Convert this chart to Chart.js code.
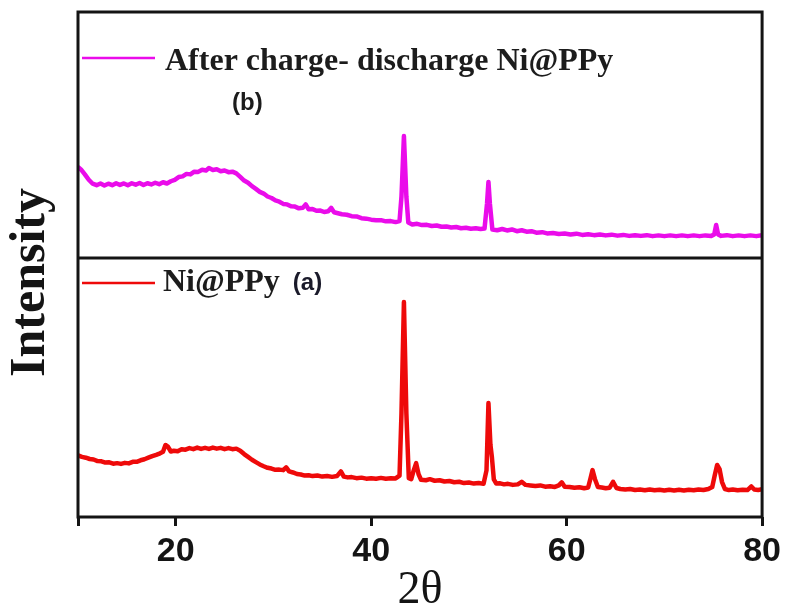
<!DOCTYPE html>
<html>
<head>
<meta charset="utf-8">
<title>XRD Ni@PPy</title>
<script src="https://cdn.jsdelivr.net/npm/chart.js@4/dist/chart.umd.min.js"></script>
<style>
    body { margin: 0; background: #fff; }
    #wrap { width: 786px; height: 614px; }
</style>
</head>
<body>
<div id="wrap"><canvas id="xrd-chart"></canvas></div>
<script>
// 2 theta ticks shown on the bottom axis (10 only gets a tick mark)
const x_ticks = [10, 20, 40, 60, 80];

// (b) after charge-discharge, upper panel
const after_theta = [
    10.0, 10.3, 10.7, 11.1, 11.5, 11.9, 12.3, 12.7, 13.1, 13.5, 13.9, 14.3, 14.7, 15.1, 15.5, 15.9,
    16.3, 16.7, 17.1, 17.5, 17.9, 18.3, 18.7, 19.1, 19.5, 19.9, 20.3, 20.7, 21.1, 21.5, 21.9, 22.3,
    22.7, 23.1, 23.4, 23.8, 24.2, 24.6, 25.0, 25.4, 25.8, 26.2, 26.6, 27.0, 27.4, 27.8, 28.2, 28.6,
    29.0, 29.4, 29.8, 30.2, 30.6, 31.0, 31.4, 31.8, 32.2, 32.6, 33.0, 33.3, 33.6, 34.0, 34.4, 34.8,
    35.2, 35.6, 35.9, 36.2, 36.6, 37.0, 37.5, 38.0, 38.5, 39.0, 39.5, 40.0, 40.5, 41.0, 41.5, 42.0,
    42.5, 42.9, 43.1, 43.35, 43.6, 43.8, 44.2, 44.7, 45.2, 45.7, 46.2, 46.7, 47.2, 47.7, 48.2, 48.7,
    49.2, 49.7, 50.2, 50.7, 51.2, 51.6, 51.85, 52.0, 52.15, 52.4, 52.9, 53.4, 53.9, 54.4, 54.9, 55.4,
    55.9, 56.4, 56.9, 57.5, 58.0, 58.6, 59.2, 59.8, 60.4, 61.0, 61.6, 62.2, 62.8, 63.4, 64.0, 64.6,
    65.2, 65.8, 66.4, 67.0, 67.6, 68.2, 68.8, 69.4, 70.0, 70.6, 71.2, 71.8, 72.4, 73.0, 73.6, 74.2,
    74.8, 75.1, 75.3, 75.5, 75.8, 76.4, 77.0, 77.6, 78.2, 78.8, 79.4, 80.0
];
const after_intensity = [
    37.0, 36.0, 34.0, 31.8, 30.2, 29.6, 30.3, 29.5, 30.2, 29.6, 30.4, 29.7, 30.3, 29.6, 30.4, 29.8,
    30.5, 29.7, 30.4, 29.9, 30.6, 30.0, 30.8, 30.3, 31.2, 31.8, 32.9, 33.2, 34.2, 34.0, 35.1, 35.0,
    35.9, 35.6, 36.6, 35.8, 36.1, 35.3, 35.6, 34.9, 35.1, 34.4, 33.0, 31.5, 30.6, 29.2, 28.1, 26.9,
    26.2, 25.0, 24.4, 23.4, 22.9, 22.0, 21.8, 21.0, 20.9, 20.2, 20.4, 21.8, 19.8, 19.9, 19.2, 19.3,
    18.7, 19.0, 20.4, 18.6, 18.2, 17.8, 17.6, 17.0, 16.9, 16.2, 16.0, 15.6, 15.4, 15.4, 14.9, 15.0,
    14.6, 15.0, 25.0, 49.6, 25.0, 14.4, 13.6, 13.9, 13.4, 13.5, 13.0, 13.2, 12.7, 12.8, 12.4, 12.6,
    12.1, 12.3, 11.9, 12.1, 11.8, 12.0, 22.0, 30.9, 22.0, 11.6, 11.3, 11.8, 11.2, 11.6, 10.9, 11.3,
    10.7, 10.9, 10.3, 10.5, 10.0, 10.2, 9.8, 10.0, 9.6, 9.9, 9.4, 9.7, 9.3, 9.6, 9.2, 9.5,
    9.1, 9.4, 9.0, 9.3, 9.0, 9.3, 8.9, 9.2, 8.9, 9.2, 8.9, 9.2, 8.9, 9.2, 8.9, 9.2,
    9.0, 9.6, 13.4, 9.6, 9.0, 9.3, 8.9, 9.2, 8.9, 9.2, 8.9, 9.3
];

// (a) as-prepared Ni@PPy, lower panel
const fresh_theta = [
    10.0, 10.4, 10.8, 11.2, 11.6, 12.0, 12.4, 12.8, 13.2, 13.6, 14.0, 14.4, 14.8, 15.2, 15.6, 16.0,
    16.4, 16.8, 17.2, 17.6, 18.0, 18.4, 18.7, 18.95, 19.2, 19.5, 19.8, 20.2, 20.6, 21.0, 21.4, 21.8,
    22.2, 22.6, 23.0, 23.4, 23.8, 24.2, 24.6, 25.0, 25.4, 25.8, 26.2, 26.6, 27.0, 27.4, 27.8, 28.2,
    28.6, 29.0, 29.4, 29.8, 30.2, 30.6, 31.0, 31.3, 31.6, 32.0, 32.4, 32.8, 33.2, 33.6, 34.0, 34.5,
    35.0, 35.5, 36.0, 36.5, 36.9, 37.2, 37.6, 38.0, 38.5, 39.0, 39.5, 40.0, 40.5, 41.0, 41.5, 42.0,
    42.5, 42.9, 43.1, 43.35, 43.6, 43.85, 44.1, 44.35, 44.6, 44.85, 45.1, 45.6, 46.0, 46.5, 47.0, 47.5,
    48.0, 48.5, 49.0, 49.5, 50.0, 50.5, 51.0, 51.5, 51.8, 52.0, 52.2, 52.35, 52.55, 52.8, 53.2, 53.6,
    54.0, 54.5, 55.0, 55.4, 55.8, 56.3, 56.8, 57.3, 57.8, 58.3, 58.8, 59.2, 59.5, 59.8, 60.3, 60.8,
    61.3, 61.8, 62.2, 62.45, 62.65, 62.9, 63.2, 63.6, 64.0, 64.4, 64.75, 65.1, 65.5, 66.0, 66.5, 67.0,
    67.5, 68.0, 68.5, 69.0, 69.5, 70.0, 70.5, 71.0, 71.5, 72.0, 72.5, 73.0, 73.5, 74.0, 74.5, 74.9,
    75.15, 75.4, 75.65, 75.9, 76.2, 76.6, 77.0, 77.5, 78.0, 78.5, 78.9, 79.2, 79.6, 80.0
];
const fresh_intensity = [
    23.8, 23.2, 22.9, 22.4, 22.2, 21.6, 21.5, 21.0, 21.1, 20.6, 20.8, 20.5, 20.9, 20.7, 21.3, 21.3,
    21.9, 22.3, 22.9, 23.5, 24.0, 24.6, 25.2, 27.8, 27.2, 25.3, 25.6, 25.4, 26.2, 26.0, 26.6, 26.2,
    26.8, 26.3, 26.7, 26.3, 26.8, 26.4, 26.7, 26.2, 26.6, 26.2, 26.4, 25.6, 24.3, 23.2, 22.1, 21.2,
    20.3, 19.6, 19.0, 18.7, 18.2, 18.3, 18.1, 19.2, 17.6, 17.2, 16.6, 16.4, 16.0, 16.1, 15.8, 16.0,
    15.6, 15.8, 15.5, 15.8, 17.6, 15.6, 15.3, 15.4, 15.0, 15.2, 14.8, 15.0, 14.8, 15.1, 14.8, 15.0,
    14.9, 16.0, 40.0, 83.0, 40.0, 15.0, 14.6, 18.0, 20.8, 16.5, 14.4, 14.2, 14.6, 14.0, 14.2, 13.7,
    13.9, 13.4, 13.6, 13.1, 13.3, 12.9, 13.1, 12.8, 18.0, 44.0, 28.0, 23.2, 14.5, 12.9, 13.0, 12.6,
    12.8, 12.4, 12.6, 13.6, 12.4, 12.2, 12.0, 12.2, 11.7, 11.9, 11.6, 12.2, 13.4, 11.7, 11.6, 11.3,
    11.5, 11.1, 11.4, 15.0, 18.1, 14.6, 11.6, 11.4, 11.1, 11.3, 13.6, 11.2, 10.8, 10.6, 10.8, 10.4,
    10.6, 10.3, 10.6, 10.3, 10.5, 10.2, 10.5, 10.2, 10.5, 10.2, 10.5, 10.3, 10.6, 10.4, 10.8, 11.6,
    16.0, 20.1, 18.5, 13.5, 10.8, 10.4, 10.6, 10.3, 10.5, 10.4, 11.8, 10.6, 10.4, 10.7
];

const to_points = (xs, ys) => xs.map((x, i) => ({ x: x, y: ys[i] }));

// frame round both panels, divider, in-panel legends and the y title
const panel_frame = {
    id: 'panel_frame',
    afterDatasetsDraw(chart) {
        const { ctx, chartArea: area, scales } = chart;
        const top_panel = scales.y_after;
        const bottom_panel = scales.y_fresh;
        ctx.save();

        ctx.strokeStyle = '#141414';
        ctx.lineWidth = 3;
        ctx.strokeRect(area.left, area.top, area.right - area.left, area.bottom - area.top);
        ctx.beginPath();
        ctx.moveTo(area.left, top_panel.bottom);
        ctx.lineTo(area.right, top_panel.bottom);
        ctx.stroke();

        const sets = chart.data.datasets;
        // upper legend
        ctx.lineWidth = 2.5;
        ctx.strokeStyle = sets[0].borderColor;
        ctx.beginPath();
        ctx.moveTo(area.left + 4, top_panel.top + 46);
        ctx.lineTo(area.left + 77, top_panel.top + 46);
        ctx.stroke();
        ctx.fillStyle = '#1c1c1c';
        ctx.textBaseline = 'alphabetic';
        ctx.textAlign = 'left';
        ctx.font = 'bold 32px "Liberation Serif", "Times New Roman", serif';
        ctx.fillText(sets[0].label, area.left + 87, top_panel.top + 58);
        ctx.font = 'bold 24px "Liberation Sans", Arial, sans-serif';
        ctx.fillText('(b)', area.left + 154, top_panel.top + 98);

        // lower legend
        ctx.strokeStyle = sets[1].borderColor;
        ctx.beginPath();
        ctx.moveTo(area.left + 4, bottom_panel.top + 25);
        ctx.lineTo(area.left + 77, bottom_panel.top + 25);
        ctx.stroke();
        ctx.font = 'bold 32px "Liberation Serif", "Times New Roman", serif';
        ctx.fillText(sets[1].label, area.left + 85, bottom_panel.top + 33);
        const w = ctx.measureText(sets[1].label).width;
        ctx.font = 'bold 24px "Liberation Sans", Arial, sans-serif';
        ctx.fillStyle = '#1a1a2a';
        ctx.fillText('(a)', area.left + 85 + w + 13, bottom_panel.top + 32);

        // y title
        ctx.translate(31, (area.top + area.bottom) / 2 + 18);
        ctx.rotate(-Math.PI / 2);
        ctx.textAlign = 'center';
        ctx.textBaseline = 'middle';
        ctx.fillStyle = '#141414';
        ctx.font = 'bold 50px "Liberation Serif", "Times New Roman", serif';
        ctx.fillText('Intensity', 0, 0);
        ctx.restore();
    }
};

const fixed_width = scale => { scale.width = 78; };

onload = () => {
    new Chart(document.getElementById('xrd-chart'), {
        type: 'line',
        data: {
            datasets: [
                {
                    label: 'After charge- discharge Ni@PPy',
                    data: to_points(after_theta, after_intensity),
                    yAxisID: 'y_after',
                    borderColor: 'rgb(234, 12, 234)',
                    borderWidth: 4.5,
                    borderJoinStyle: 'round',
                    pointRadius: 0,
                    tension: 0
                },
                {
                    label: 'Ni@PPy',
                    data: to_points(fresh_theta, fresh_intensity),
                    yAxisID: 'y_fresh',
                    borderColor: 'rgb(238, 10, 10)',
                    borderWidth: 4.5,
                    borderJoinStyle: 'round',
                    pointRadius: 0,
                    tension: 0
                }
            ]
        },
        options: {
            responsive: true,
            maintainAspectRatio: false,
            animation: false,
            layout: { padding: { top: 12, right: 22, bottom: 0, left: 0 } },
            plugins: {
                legend: { display: false },
                tooltip: { enabled: false }
            },
            scales: {
                x: {
                    type: 'linear',
                    min: 10,
                    max: 80,
                    afterBuildTicks: scale => {
                        scale.ticks = x_ticks.map(v => ({ value: v }));
                    },
                    afterFit: scale => { scale.height = 97; },
                    ticks: {
                        color: '#141414',
                        padding: 5,
                        maxRotation: 0,
                        font: { family: '"Liberation Sans", Arial, sans-serif', size: 34, weight: 'bold' },
                        callback: value => value === 10 ? '' : value
                    },
                    grid: {
                        drawOnChartArea: false,
                        drawTicks: true,
                        tickLength: 9,
                        lineWidth: 3,
                        color: '#141414'
                    },
                    border: { display: false },
                    title: {
                        display: true,
                        text: '2θ',
                        color: '#141414',
                        padding: 0,
                        font: { family: '"Liberation Serif", "Times New Roman", serif', size: 46, lineHeight: 1 }
                    }
                },
                y_fresh: {
                    type: 'linear',
                    position: 'left',
                    stack: 'xrd',
                    stackWeight: 1,
                    min: 0,
                    max: 100,
                    afterFit: fixed_width,
                    ticks: { display: false },
                    grid: { display: false },
                    border: { display: false }
                },
                y_after: {
                    type: 'linear',
                    position: 'left',
                    stack: 'xrd',
                    stackWeight: 0.95,
                    min: 0,
                    max: 100,
                    afterFit: fixed_width,
                    ticks: { display: false },
                    grid: { display: false },
                    border: { display: false }
                }
            }
        },
        plugins: [panel_frame]
    });
};
</script>
</body>
</html>
